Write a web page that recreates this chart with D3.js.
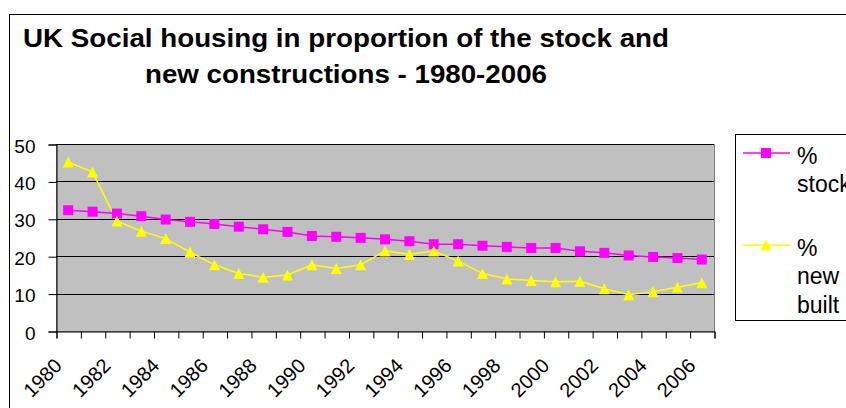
<!DOCTYPE html>
<html>
<head>
<meta charset="utf-8">
<script src="https://cdn.jsdelivr.net/npm/d3@7"></script>
<style>
    body { margin: 0; background: #fff; }
    svg { display: block; font-family: "Liberation Sans", Arial, sans-serif; }
</style>
</head>
<body>
<div class="chart"></div>
<script>
var years = [1980, 1981, 1982, 1983, 1984, 1985, 1986, 1987, 1988, 1989, 1990, 1991, 1992, 1993,
    1994, 1995, 1996, 1997, 1998, 1999, 2000, 2001, 2002, 2003, 2004, 2005, 2006];
var stock = [32.3, 31.9, 31.4, 30.7, 29.8, 29.2, 28.6, 27.9, 27.2, 26.5, 25.4, 25.2, 24.9, 24.5,
    24.0, 23.2, 23.2, 22.8, 22.5, 22.2, 22.2, 21.3, 20.9, 20.2, 19.8, 19.5, 19.1];
var newBuilt = [45.2, 42.5, 29.4, 26.7, 24.7, 21.1, 17.7, 15.4, 14.4, 15.0, 17.7, 16.7, 17.7, 21.4,
    20.5, 21.4, 18.7, 15.4, 13.9, 13.5, 13.2, 13.3, 11.3, 9.7, 10.5, 11.7, 12.9];
var yearLabels = [1980, 1982, 1984, 1986, 1988, 1990, 1992, 1994, 1996, 1998, 2000, 2002, 2004, 2006];
var yTicks = [0, 10, 20, 30, 40, 50];
var titleLines = ["UK Social housing in proportion of the stock and", "new constructions - 1980-2006"];
var legendItems = [
    { lines: ["%", "stock"], color: "#ff00ff", shape: "square" },
    { lines: ["%", "new", "built"], color: "#ffff00", shape: "triangle" }
];

var dim = {
    width: 846, height: 408,
    plot: { left: 56, right: 714, top: 144, bottom: 331 }
};

var svg = d3.select(".chart").append("svg")
    .attr("width", dim.width)
    .attr("height", dim.height);

// outer chart border (runs off the right and bottom)
svg.append("rect")
    .attr("x", 9.5).attr("y", 14.5)
    .attr("width", 900).attr("height", 500)
    .attr("fill", "none")
    .attr("stroke", "#000");

// title
svg.append("g").selectAll("text").data(titleLines)
    .enter().append("text")
    .attr("x", 346)
    .attr("y", function(d, i) { return 47 + i * 36; })
    .attr("text-anchor", "middle")
    .attr("font-size", 26)
    .attr("font-weight", "bold")
    .attr("textLength", function(d, i) { return i === 0 ? 646 : 402; })
    .attr("lengthAdjust", "spacingAndGlyphs")
    .text(function(d) { return d; });

var x = d3.scaleBand()
    .domain(years)
    .range([dim.plot.left, dim.plot.right]);

// boundaries between categories, for the tick marks
var xEdge = d3.scaleLinear()
    .domain([0, years.length])
    .range([dim.plot.left, dim.plot.right]);

var y = d3.scaleLinear()
    .domain([0, 50])
    .range([dim.plot.bottom, dim.plot.top]);

function cx(i) { return x(years[i]) + x.bandwidth() / 2; }

// plot area
svg.append("rect")
    .attr("x", dim.plot.left + 0.5).attr("y", dim.plot.top + 0.5)
    .attr("width", dim.plot.right - dim.plot.left)
    .attr("height", dim.plot.bottom - dim.plot.top)
    .attr("fill", "#c0c0c0")
    .attr("stroke", "#808080");

svg.append("g").selectAll("line").data(yTicks.slice(1))
    .enter().append("line")
    .attr("x1", dim.plot.left).attr("x2", dim.plot.right)
    .attr("y1", function(d) { return Math.round(y(d)) + 0.5; })
    .attr("y2", function(d) { return Math.round(y(d)) + 0.5; })
    .attr("stroke", "#000");

// axes
var yAxis = d3.axisLeft(y).tickValues(yTicks).tickSize(8).tickPadding(13);
var yG = svg.append("g")
    .attr("transform", "translate(" + (dim.plot.left + 0.5) + ",0.5)")
    .call(yAxis);
yG.select(".domain").attr("stroke", "#000");
yG.selectAll("text")
    .attr("font-size", 19)
    .attr("font-family", "Liberation Sans, Arial, sans-serif")
    .attr("fill", "#000")
    .attr("dy", "0.4em");

var xAxis = d3.axisBottom(xEdge).tickValues(d3.range(years.length + 1)).tickSize(7).tickFormat("");
svg.append("g")
    .attr("transform", "translate(0.5," + (dim.plot.bottom + 0.5) + ")")
    .call(xAxis)
    .select(".domain").attr("stroke", "#000");

svg.append("g").selectAll("text").data(yearLabels)
    .enter().append("text")
    .attr("transform", function(d) {
        return "translate(" + (x(d) + x.bandwidth() / 2 - 10) + ",362) rotate(-45)";
    })
    .attr("text-anchor", "end")
    .attr("dominant-baseline", "central")
    .attr("font-size", 20)
    .text(function(d) { return d; });

// series
var line = d3.line()
    .x(function(d, i) { return cx(i); })
    .y(function(d) { return y(d); });

var triPath = "M0,-5.5L5.5,5.5L-5.5,5.5Z";

svg.append("path").datum(newBuilt)
    .attr("d", line)
    .attr("fill", "none")
    .attr("stroke", "#ffff00")
    .attr("stroke-width", 1.5);

svg.append("path").datum(stock)
    .attr("d", line)
    .attr("fill", "none")
    .attr("stroke", "#ff00ff")
    .attr("stroke-width", 1.5);

svg.append("g").selectAll("rect").data(stock)
    .enter().append("rect")
    .attr("x", function(d, i) { return cx(i) - 5; })
    .attr("y", function(d) { return y(d) - 5; })
    .attr("width", 10).attr("height", 10)
    .attr("fill", "#ff00ff");

svg.append("g").selectAll("path").data(newBuilt)
    .enter().append("path")
    .attr("transform", function(d, i) { return "translate(" + cx(i) + "," + y(d) + ")"; })
    .attr("d", triPath)
    .attr("fill", "#ffff00");

// legend
var legend = svg.append("g");
legend.append("rect")
    .attr("x", 735.5).attr("y", 134.5)
    .attr("width", 200).attr("height", 186)
    .attr("fill", "#fff")
    .attr("stroke", "#000");

var legendTop = [153, 245];
legendItems.forEach(function(item, k) {
    var g = legend.append("g").attr("transform", "translate(0," + legendTop[k] + ")");
    g.append("line")
        .attr("x1", 743).attr("x2", 790)
        .attr("stroke", item.color)
        .attr("stroke-width", 1.5);
    if (item.shape === "square") {
        g.append("rect")
            .attr("x", 761).attr("y", -5)
            .attr("width", 10).attr("height", 10)
            .attr("fill", item.color);
    } else {
        g.append("path")
            .attr("transform", "translate(766,0)")
            .attr("d", triPath)
            .attr("fill", item.color);
    }
    g.selectAll("text").data(item.lines)
        .enter().append("text")
        .attr("x", 797)
        .attr("y", function(d, i) { return 10.5 + i * 28.5; })
        .attr("font-size", 23)
        .text(function(d) { return d; });
});
</script>
</body>
</html>
